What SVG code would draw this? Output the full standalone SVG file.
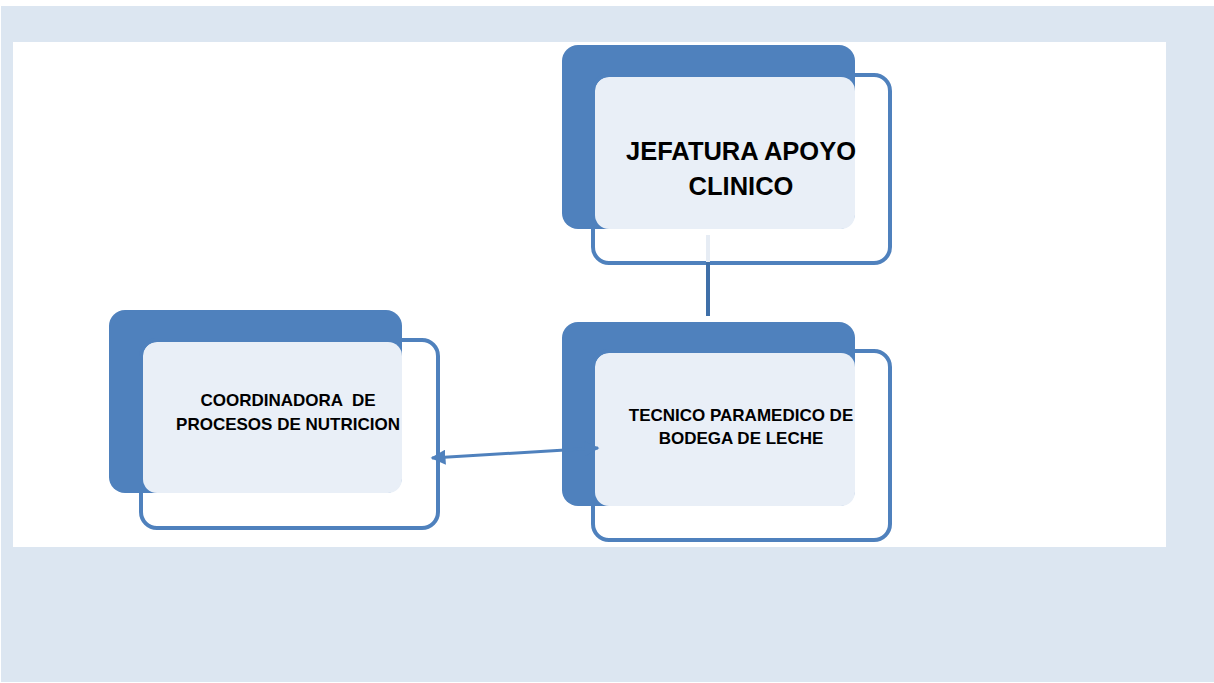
<svg xmlns="http://www.w3.org/2000/svg" width="1214" height="683" viewBox="0 0 1214 683">
<defs>
<style>
.back{fill:#4F81BD}
.light{fill:#E9EFF7}
.frame{fill:none;stroke:#4F81BD;stroke-width:4}
.t{font-family:"Liberation Sans",Arial,sans-serif;font-weight:bold;fill:#000;text-anchor:middle}
.conn{stroke:#4F81BD;stroke-width:3;fill:none}
</style>
<marker id="ah" viewBox="0 0 10 10" refX="9" refY="5" markerWidth="5" markerHeight="5" orient="auto-start-reverse" markerUnits="strokeWidth">
<path d="M0,0 L10,5 L0,10 z" fill="#4F81BD"/>
</marker>
</defs>
<rect x="1" y="6" width="1213" height="676" fill="#DCE6F1"/>
<rect x="13" y="42" width="1153" height="505" fill="#FFFFFF"/>
<g id="node-jefatura">
<rect class="back" x="562" y="45" width="293" height="184" rx="16"/>
<rect class="light" x="595" y="77" width="260" height="152" rx="14"/>
<rect class="frame" x="593" y="75" width="297" height="188" rx="16"/>
<text class="t" x="741" y="160" font-size="25.5">JEFATURA APOYO</text>
<text class="t" x="741" y="195" font-size="25.5">CLINICO</text>
</g>
<g id="node-coordinadora">
<rect class="back" x="109" y="310" width="293" height="183" rx="16"/>
<rect class="light" x="143" y="342" width="259" height="151" rx="14"/>
<rect class="frame" x="141" y="340" width="297" height="188" rx="16"/>
<text class="t" x="288" y="406" font-size="17" xml:space="preserve">COORDINADORA  DE</text>
<text class="t" x="288" y="430" font-size="17">PROCESOS DE NUTRICION</text>
</g>
<g id="node-tecnico">
<rect class="back" x="562" y="322" width="293" height="184" rx="16"/>
<rect class="light" x="595" y="353" width="260" height="153" rx="14"/>
<rect class="frame" x="593" y="351" width="297" height="189" rx="16"/>
<text class="t" x="741" y="421" font-size="17">TECNICO PARAMEDICO DE</text>
<text class="t" x="741" y="444" font-size="17">BODEGA DE LECHE</text>
</g>
<g id="connectors">
<line x1="708" y1="235" x2="708" y2="262" stroke="#E6ECF4" stroke-width="4"/>
<line x1="708" y1="262" x2="708" y2="316" stroke="#3F6FA8" stroke-width="4"/>
<line class="conn" x1="432" y1="458" x2="598" y2="448" marker-start="url(#ah)" marker-end="url(#ah)"/>
</g>
</svg>
